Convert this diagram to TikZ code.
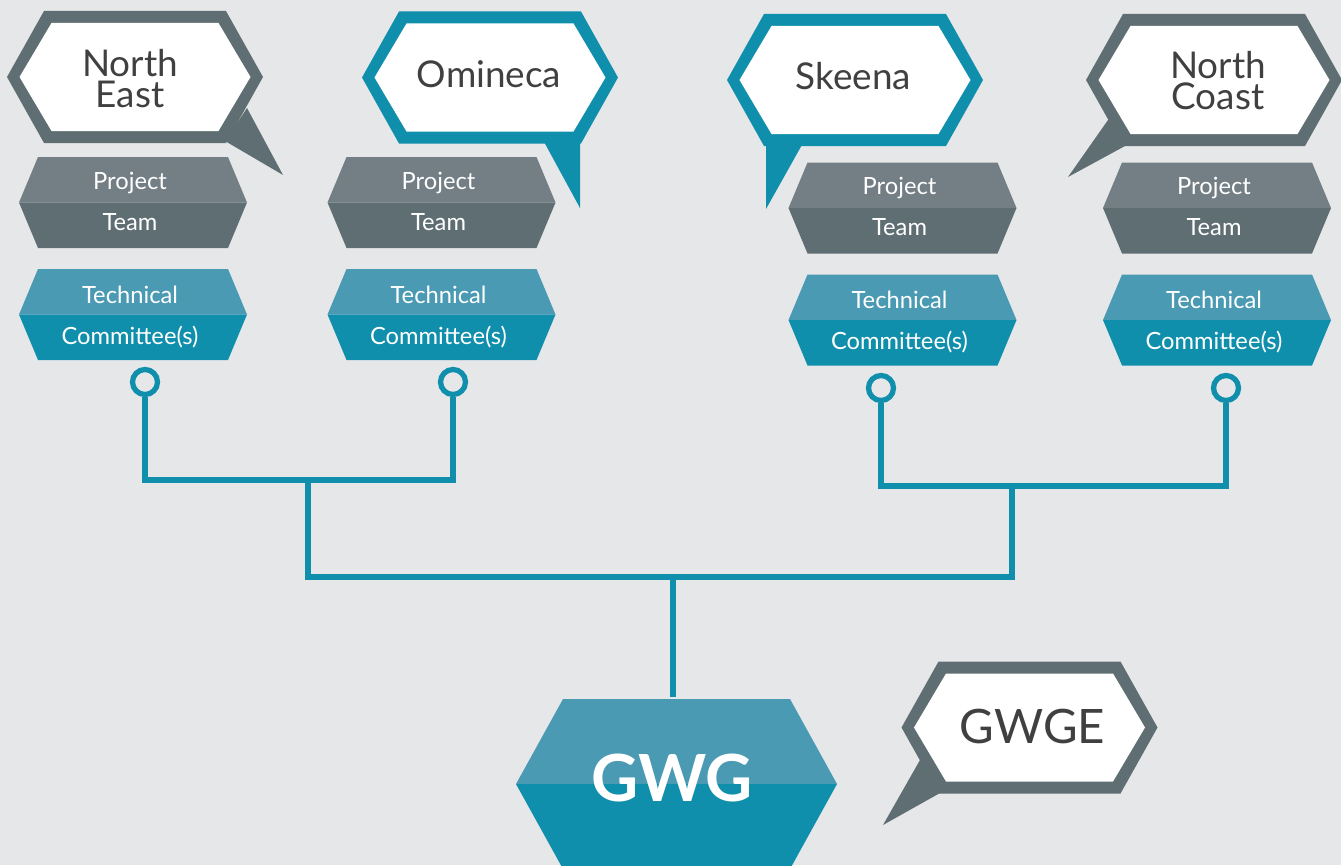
\documentclass[tikz,border=0pt]{standalone}
\usepackage{fontspec}
\setmainfont{Lato}

\definecolor{bggray}{HTML}{E6E7E9}
\definecolor{wgslate}{HTML}{5F6E73}
\definecolor{wgslatelight}{HTML}{737F84}
\definecolor{wgteal}{HTML}{0F8FAB}
\definecolor{wgteallight}{HTML}{4A9AB3}
\definecolor{textdark}{HTML}{404040}

% two-tone hexagon: cx, cy, half width, inset, half height, top colour, bottom colour
\newcommand{\splithex}[7]{%
  \fill[#6] ({#1-#3},{#2}) -- ({#1-#3+#4},{#2-#5}) -- ({#1+#3-#4},{#2-#5}) -- ({#1+#3},{#2}) -- cycle;
  \fill[#7] ({#1-#3},{#2}) -- ({#1-#3+#4},{#2+#5}) -- ({#1+#3-#4},{#2+#5}) -- ({#1+#3},{#2}) -- cycle;
}

% speech bubble: cx, cy, colour, tail path
\newcommand{\bubble}[4]{%
  \fill[#3] #4;
  \fill[#3] ({#1-128},{#2}) -- ({#1-91},{#2-66}) -- ({#1+91},{#2-66}) -- ({#1+128},{#2}) -- ({#1+91},{#2+66}) -- ({#1-91},{#2+66}) -- cycle;
  \fill[white] ({#1-115.5},{#2}) -- ({#1-83.5},{#2-54}) -- ({#1+83.5},{#2-54}) -- ({#1+115.5},{#2}) -- ({#1+83.5},{#2+54}) -- ({#1-83.5},{#2+54}) -- cycle;
}

\tikzset{
  boxtext/.style={text=white, font=\fontsize{13.5}{15}\selectfont, anchor=base, inner sep=0pt},
  calltext/.style={text=textdark, anchor=base, inner sep=0pt, font=\fontsize{21}{24}\selectfont},
  ring/.style={circle, draw=wgteal, line width=3pt, minimum size=0.5cm, inner sep=0pt},
  link/.style={draw=wgteal, line width=3pt},
}

\begin{document}
\begin{tikzpicture}[x=0.02cm,y=-0.02cm]
  \useasboundingbox (0,0) rectangle (1341,865);
  \fill[bggray] (0,0) rectangle (1341,865);
  \clip (0,0) rectangle (1341,865);

  % region bubbles
  \bubble{135}{77}{wgslate}{(225,141) -- (247,108) -- (283,175) -- cycle}
  \bubble{490}{77.5}{wgteal}{(543,140) -- (580,140) -- (580,208) -- cycle}
  \bubble{855}{80}{wgteal}{(766,143) -- (803,143) -- (766,209) -- cycle}
  \bubble{1214}{80}{wgslate}{(1115,110) -- (1125,146) -- (1068,177) -- cycle}
  \bubble{1029.5}{727.5}{wgslate}{(920,760) -- (940,793) -- (883,825) -- cycle}

  \node[calltext] (NE-1) at (130,77) {North};
  \node[calltext] (NE-2) at (130,108) {East};
  \node[calltext] (OM) at (489,88) {Omineca};
  \node[calltext] (SK) at (853.5,90) {Skeena};
  \node[calltext] (NC-1) at (1218,79) {North};
  \node[calltext] (NC-2) at (1218,110) {Coast};
  \node[calltext,font=\fontsize{27}{30}\selectfont] (GE) at (1032.5,743) {GWGE};

  % project teams and technical committees
  \foreach \cx/\cy/\r in {133/202.5/1, 441.5/202.5/2, 902.5/208/3, 1217/208/4}{
    \splithex{\cx}{\cy}{114}{19}{45.5}{wgslatelight}{wgslate}
    \node[boxtext] (P-\r) at (\cx-3,\cy-13.5) {Project};
    \node[boxtext] (T-\r) at (\cx-3,\cy+27.5) {Team};
    \splithex{\cx}{\cy+112}{114}{19}{45.5}{wgteallight}{wgteal}
    \node[boxtext] (TC-\r) at (\cx-3,\cy+100.5) {Technical};
    \node[boxtext] (C-\r) at (\cx-3,\cy+141.5) {Committee(s)};
  }

  % GWG
  \splithex{676.5}{784}{160.5}{47}{85}{wgteallight}{wgteal}
  \node[anchor=base, text=white, inner sep=0pt, font=\fontsize{37}{40}\selectfont\bfseries] (GWG) at (672,801) {GWG};

  % connectors
  \foreach \x/\y/\r in {145/382/1, 453/382/2, 881/388/3, 1226/388/4}
    \node[ring] (R-\r) at (\x,\y) {};
  \coordinate (J-L) at (308,480);
  \coordinate (J-R) at (1012,486);
  \coordinate (J-M) at (673,577);
  \coordinate (G-top) at (673,697);

  \draw[link] (R-1) |- (J-L) -| (R-2);
  \draw[link] (R-3) |- (J-R) -| (R-4);
  \draw[link] (J-L) |- (J-M) -| (J-R);
  \draw[link] (J-M) -- (G-top);

\end{tikzpicture}
\end{document}
